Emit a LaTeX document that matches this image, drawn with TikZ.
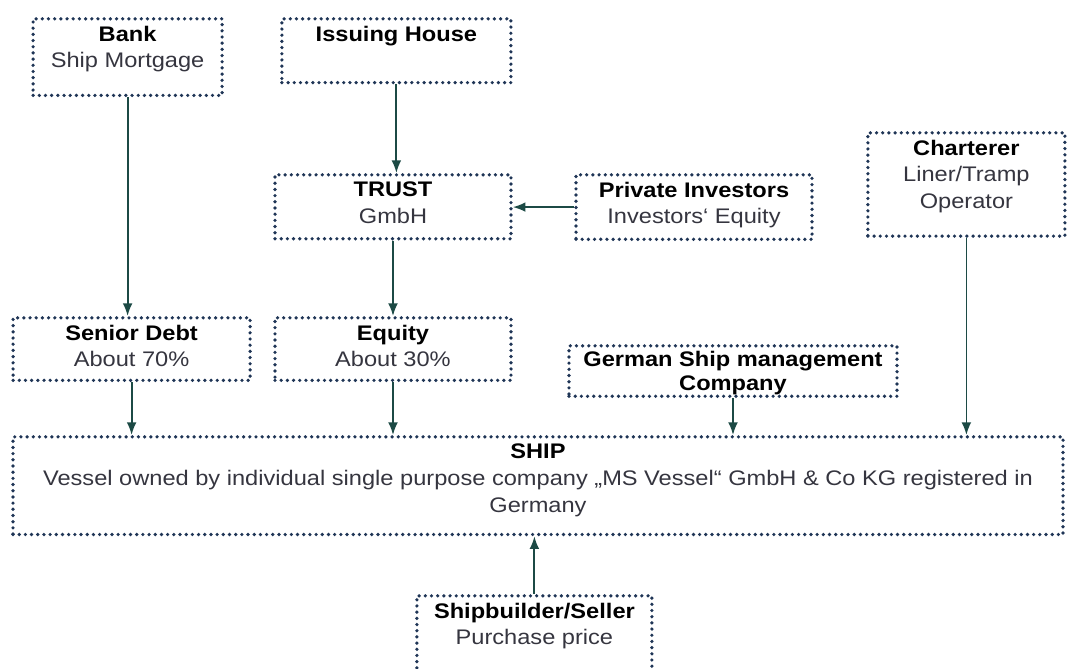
\documentclass[tikz,border=0pt]{standalone}
\usepackage{fontspec}
\setmainfont[FakeStretch=1.12]{Liberation Sans}
\usepackage{tikz}
\usetikzlibrary{positioning}
\usetikzlibrary{arrows.meta}
\definecolor{boxblue}{HTML}{1F3556}
\definecolor{arrowteal}{HTML}{1C4A45}
\definecolor{txtgray}{HTML}{35353F}
\newcommand{\boxhead}[1]{{\color{black}\bfseries #1}}
\tikzset{
    box/.style = {rectangle, draw=boxblue, line width=2.6pt, dash pattern=on 0pt off 4.4pt, line cap=round,
                  anchor=north, align=center, inner xsep=0pt, inner ysep=5pt, text=txtgray,
                  font=\fontsize{15}{19}\selectfont},
    edgen/.style = {-{Latex[length=9pt,width=7pt]}, line width=1.3pt, draw=arrowteal, fill=arrowteal},
}
\begin{document}
\begin{tikzpicture}
\useasboundingbox (0,0) rectangle (26.675,-16.7);
%
\node[box, minimum width=4.725cm, text depth=14.6pt] at (3.19,-0.425) (bank) {\boxhead{Bank}\\Ship Mortgage};
\node[box, minimum width=5.725cm, text depth=24.5pt] at (9.91,-0.425) (issuing) {\boxhead{Issuing House}};
\node[box, minimum width=5.9cm, text depth=6pt] at (9.825,-4.325) (trust) {\boxhead{TRUST}\\GmbH};
\node[box, minimum width=5.9cm, text depth=6pt] at (17.35,-4.325) (private) {\boxhead{Private Investors}\\Investors‘ Equity};
\node[box, minimum width=4.925cm, text depth=14.6pt] at (24.16,-3.275) (charterer) {\boxhead{Charterer}\\Liner/Tramp\\Operator};
\node[box, minimum width=5.925cm, text depth=4.6pt] at (3.29,-7.9) (senior) {\boxhead{Senior Debt}\\About 70\%};
\node[box, minimum width=5.9cm, text depth=4.6pt] at (9.825,-7.9) (equity) {\boxhead{Equity}\\About 30\%};
\node[box, minimum width=8.2cm, text depth=0pt, inner ysep=4pt] at (18.325,-8.6) (german) {\boxhead{German Ship management}\\[-2pt]\boxhead{Company}};
\node[box, minimum width=26.25cm, text depth=11pt] at (13.45,-10.875) (ship) {\boxhead{SHIP}\\Vessel owned by individual single purpose company „MS Vessel“ GmbH \& Co KG registered in\\Germany};
\node[box, minimum width=5.875cm, text depth=14.6pt] at (13.36,-14.85) (builder) {\boxhead{Shipbuilder/Seller}\\Purchase price};
%
\draw[edgen] (bank.south) -- (bank.south |- senior.north);
\draw[edgen] (issuing.south) -- (issuing.south |- trust.north);
\draw[edgen] (private.west) -- (private.west -| trust.east);
\draw[edgen] (trust.south) -- (trust.south |- equity.north);
\draw[edgen] (senior.south) -- (senior.south |- ship.north);
\draw[edgen] (equity.south) -- (equity.south |- ship.north);
\draw[edgen] (german.south) -- (german.south |- ship.north);
\draw[edgen] (charterer.south) -- (charterer.south |- ship.north);
\draw[edgen] (builder.north) -- (builder.north |- ship.south);

\end{tikzpicture}
\end{document}
